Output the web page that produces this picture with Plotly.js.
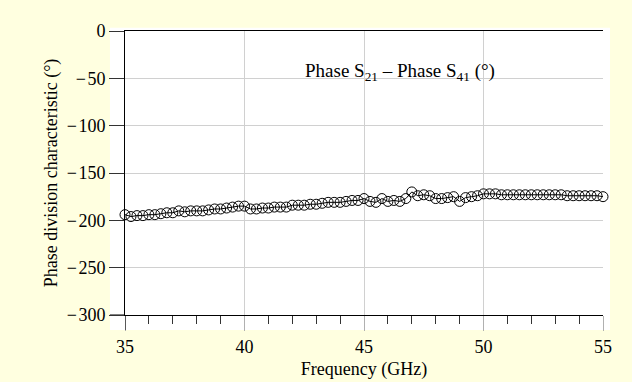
<!DOCTYPE html>
<html>
<head>
<meta charset="utf-8">
<script src="https://cdn.plot.ly/plotly-3.0.1.min.js"></script>
<style>html,body{margin:0;padding:0;background:#ffffe0;}</style>
</head>
<body>
<div id="chart" style="width:632px;height:382px;"></div>
<script>
// Frequency (GHz)
var freq = [35.00,35.25,35.50,35.75,36.00,36.25,36.50,36.75,37.00,37.25,37.50,37.75,38.00,38.25,38.50,38.75,
  39.00,39.25,39.50,39.75,40.00,40.25,40.50,40.75,41.00,41.25,41.50,41.75,42.00,42.25,42.50,42.75,
  43.00,43.25,43.50,43.75,44.00,44.25,44.50,44.75,45.00,45.25,45.50,45.75,46.00,46.25,46.50,46.75,
  47.00,47.25,47.50,47.75,48.00,48.25,48.50,48.75,49.00,49.25,49.50,49.75,50.00,50.25,50.50,50.75,
  51.00,51.25,51.50,51.75,52.00,52.25,52.50,52.75,53.00,53.25,53.50,53.75,54.00,54.25,54.50,54.75,55.00];
// Phase S21 - Phase S41 (deg)
var phaseDiff = [-194,-196,-195,-195,-194,-194,-193,-192,-192,-190,-191,-190,-190,-190,-189,-188,
  -188,-187,-186,-185,-185,-188,-188,-187,-187,-186,-186,-186,-184,-184,-184,-183,
  -183,-182,-181,-181,-181,-180,-179,-179,-177,-180,-181,-177,-180,-179,-180,-177,
  -170,-174,-173,-174,-177,-177,-176,-175,-180,-176,-175,-174,-172,-172,-172,-173,
  -173,-173,-173,-173,-173,-173,-173,-173,-173,-173,-174,-174,-174,-174,-174,-174,-175];
var xTicks = [35,40,45,50,55];
var yTicks = [0,-50,-100,-150,-200,-250,-300];
var yTickLabels = ['0','\u2212\u200A50','\u2212\u200A100','\u2212\u200A150','\u2212\u200A200','\u2212\u200A250','\u2212\u200A300'];

var fontFam = '"Liberation Serif", "Times New Roman", serif';

var trace = {
  x: freq, y: phaseDiff, type: 'scatter', mode: 'lines+markers',
  line: {color: '#000', width: 1},
  marker: {symbol: 'circle-open', size: 10, color: '#000', line: {width: 1, color: '#000'}},
  cliponaxis: false, showlegend: false, hoverinfo: 'skip'
};

var layout = {
  width: 632, height: 382,
  paper_bgcolor: '#ffffe0', plot_bgcolor: '#ffffff',
  margin: {l: 125, r: 29, t: 31, b: 67},
  font: {family: fontFam, size: 18, color: '#000'},
  xaxis: {
    range: [35, 55], tickvals: xTicks, ticks: 'outside', ticklen: 15, tickcolor: '#b0b0b0', tickwidth: 1,
    showgrid: true, gridcolor: '#d0d0d0', gridwidth: 1,
    showline: true, linecolor: '#000', linewidth: 1, mirror: true, zeroline: false,
    minor: {dtick: 1, ticks: 'outside', ticklen: 8, tickcolor: '#333', showgrid: false},
    tickfont: {family: fontFam, size: 18, color: '#000'},
    title: {text: 'Frequency (GHz)', font: {family: fontFam, size: 18, color: '#000'}, standoff: 6}
  },
  yaxis: {
    range: [-300, 0], tickvals: yTicks, ticktext: yTickLabels, ticks: 'outside', ticklen: 15, tickcolor: '#333', tickwidth: 1,
    showgrid: true, gridcolor: '#d0d0d0', gridwidth: 1,
    showline: true, linecolor: '#000', linewidth: 1, zeroline: false,
    tickfont: {family: fontFam, size: 18, color: '#000'},
    title: {text: 'Phase division characteristic (°)', font: {family: fontFam, size: 18, color: '#000'}, standoff: 4}
  },
  shapes: [
    {type: 'rect', xref: 'paper', yref: 'paper', x0: -0.0315, x1: 1.0146, y0: -0.0529, y1: 1.0116,
     fillcolor: '#ffffff', line: {width: 0}, layer: 'below'},
    {type: 'line', xref: 'x', yref: 'paper', x0: 35, x1: 35, y0: -0.0529, y1: 0, line: {color: '#000', width: 1}},
    {type: 'line', xref: 'paper', yref: 'y', x0: -0.0315, x1: 0, y0: -300, y1: -300, line: {color: '#000', width: 1}}
  ],
  annotations: [
    {xref: 'x', yref: 'y', x: 46.5, y: -43, showarrow: false,
     text: 'Phase S<sub>21</sub> – Phase S<sub>41</sub> (°)',
     font: {family: fontFam, size: 19, color: '#000'}}
  ]
};

Plotly.newPlot('chart', [trace], layout, {displayModeBar: false, staticPlot: true});
</script>
</body>
</html>
